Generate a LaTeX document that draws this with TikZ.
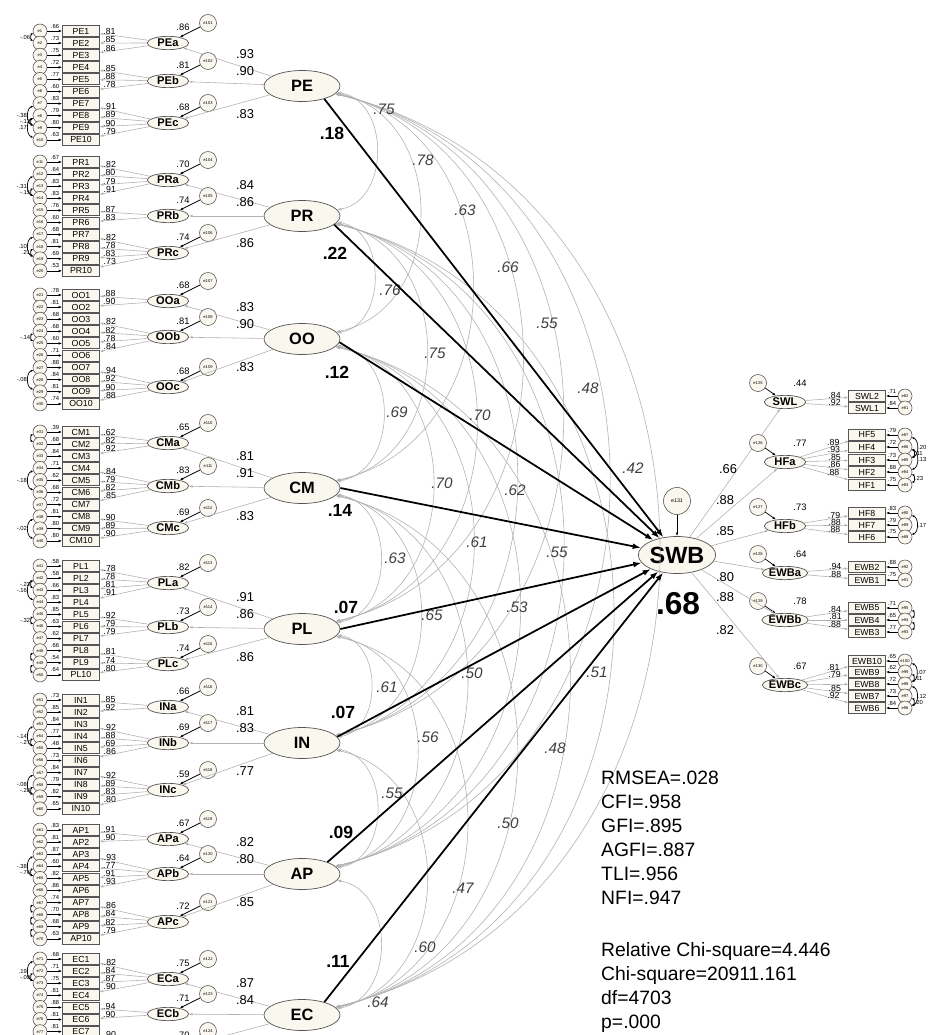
\documentclass[tikz,border=0pt]{standalone}
\usepackage{fontspec}
\setmainfont{Liberation Sans}
\usepackage{tikz}
\usetikzlibrary{arrows.meta, shapes.geometric, calc}
\definecolor{creamfill}{RGB}{250,247,238}
\definecolor{pathgray}{RGB}{178,178,178}
\definecolor{rimgray}{RGB}{85,85,85}
\newcommand{\pxfont}[1]{\fontsize{#1}{#1}\selectfont}
\tikzset{
  % first-order constructs
  latent/.style={
    ellipse, draw=rimgray, fill=creamfill, line width=0.6pt, inner sep=0pt,
    minimum width=2.28cm, minimum height=0.93cm, font=\pxfont{14}\bfseries
  },
  % sub-dimensions
  sublat/.style={
    ellipse, draw=rimgray, fill=creamfill, line width=0.6pt, inner sep=0pt,
    minimum width=1.24cm, minimum height=0.4cm, font=\pxfont{9.5}\bfseries
  },
  % observed items
  item/.style={
    rectangle, draw=rimgray, fill=creamfill, line width=0.7pt, inner sep=0pt,
    minimum width=1.1cm, minimum height=0.33cm, font=\pxfont{7.5}
  },
  % error terms
  errc/.style={
    circle, draw=rimgray, fill=creamfill, line width=0.5pt, inner sep=0pt,
    minimum size=0.42cm, font=\pxfont{3.5}
  },
  errs/.style={errc, minimum size=0.51cm},
  % arrow styles
  load/.style={-{Latex[length=3pt, width=2.2pt]}, draw=pathgray, line width=0.5pt},
  errarr/.style={-{Latex[length=3pt, width=2.2pt]}, draw=black, line width=0.6pt},
  direct/.style={-{Latex[length=7pt, width=5pt]}, draw=black, line width=1.5pt},
  cov/.style={{Latex[length=3.5pt, width=2.5pt]}-{Latex[length=3.5pt, width=2.5pt]}, draw=pathgray, line width=0.5pt},
  ecov/.style={{Latex[length=2pt, width=2pt]}-{Latex[length=2pt, width=2pt]}, draw=black, line width=0.6pt},
  % text styles
  coefb/.style={font=\pxfont{15}\bfseries, inner sep=0pt},
  coefm/.style={font=\pxfont{11}, inner sep=0pt},
  coefs/.style={font=\pxfont{8}, inner sep=0.5pt},
  coefi/.style={font=\pxfont{7.5}, inner sep=0.3pt},
  tinyc/.style={font=\pxfont{5}, inner sep=0.5pt},
  corr/.style={font=\pxfont{13}\itshape, text=black!75, inner sep=0pt},
  fitnote/.style={font=\fontsize{16.5}{20.4}\selectfont, align=left, inner sep=0pt}
}

\begin{document}
\begin{tikzpicture}[x=0.03cm, y=-0.03cm]
  \useasboundingbox (0,0) rectangle (933,1035);
  \clip (0,0) rectangle (933,1035);
  \fill[white] (0,0) rectangle (933,1035);

  % outcome
  \node[latent, minimum width=2.22cm, minimum height=1.11cm, font=\pxfont{20}\bfseries] (SWB) at (677,555) {SWB};
  \node[errc, minimum size=0.81cm, font=\pxfont{4.5}] (e131) at (677,501) {e131};
  \draw[errarr] (e131) -- (SWB);
  \node[font=\pxfont{27}\bfseries, inner sep=0pt] (rSWB) at (678,604) {.68};

  % predictors
  \foreach \f/\yy in {PE/86, PR/216, OO/339, CM/488, PL/629, IN/743, AP/874, EC/1015}
    \node[latent] (\f) at (302,\yy) {\f};

  % correlations between predictors
  \foreach \na/\ya [count=\ci] in {PE/86, PR/216, OO/339, CM/488, PL/629, IN/743, AP/874, EC/1015} {
    \foreach \nb/\yb [count=\cj] in {PE/86, PR/216, OO/339, CM/488, PL/629, IN/743, AP/874, EC/1015} {
      \ifnum\cj>\ci
        \pgfmathsetmacro\cx{(302+75+0.354*(\yb-\ya-130)-84.5)/0.75}
        \pgfmathsetmacro\cy{0.12*(\yb-\ya)}
        \draw[cov] (\na) .. controls (\cx,\ya+\cy) and (\cx,\yb-\cy) .. (\nb);
      \fi
    }
  }
  \foreach \lx/\ly/\lv [count=\nm] in {384/109/.75, 423/160/.78, 465/210/.63, 508/267/.66,
      547/323/.55, 588/388/.48, 633/468/.42, 390/290/.76, 435/353/.75, 480/415/.70,
      397/412/.69, 442/483/.70, 515/490/.62, 477/542/.61, 557/552/.55, 395/558/.63,
      432/615/.65, 517/607/.53, 472/673/.50, 597/672/.51, 387/687/.61, 428/737/.56,
      555/748/.48, 392/793/.55, 508/823/.50, 463/888/.47, 425/947/.60, 378/1002/.64}
    \node[corr] (rho\nm) at (\lx,\ly) {\lv};

  % paths to SWB
  \foreach \f/\ang/\bx/\by/\bv in {PE/-30/332/133/.18, PR/-15/335/253/.22, OO/-5/337/372/.12,
      CM/0/340/510/.14, PL/0/346/607/.07, IN/10/343/712/.07, AP/25/341/832/.09, EC/30/338/961/.11} {
    \draw[direct] (\f.\ang) -- (SWB);
    \node[coefb] (b\f) at (\bx,\by) {\bv};
  }

  % items and their errors
  \foreach \f/\yo/\eo/\nn in {PE/31/0/10, PR/162/10/10, OO/295/20/10, CM/432/30/10,
      PL/566/40/10, IN/700/50/10, AP/830/60/10, EC/959/70/7} {
    \foreach \kk in {1,...,\nn} {
      \pgfmathsetmacro\yy{\yo+12.1*(\kk-1)}
      \pgfmathtruncatemacro\en{\eo+\kk}
      \node[item] (\f\kk) at (81,\yy) {\f\kk};
      \node[errc] (e\en) at (40,\yy) {e\en};
      \draw[errarr] (e\en) -- (\f\kk);
    }
  }
  \foreach \rr [count=\en] in {.66,.73,.75,.72,.77,.60,.83,.79,.80,.63,
      .67,.64,.83,.83,.76,.60,.68,.81,.69,.53, .78,.81,.68,.68,.60,.71,.88,.84,.81,.74,
      .39,.68,.84,.71,.62,.68,.72,.81,.80,.80, .58,.58,.66,.83,.85,.63,.62,.66,.54,.64,
      .73,.85,.84,.77,.48,.73,.84,.79,.82,.65, .83,.81,.87,.60,.82,.86,.74,.70,.68,.63,
      .68,.71,.75,.81,.88,.81,.81}
    \node[tinyc] (q\en) at ($(e\en)+(15,-5)$) {\rr};
  \foreach \ea/\eb/\lab [count=\nm] in {1/2/-.06, 7/9/-.38, 8/9/-.13, 8/10/.17, 12/14/-.31,
      13/14/-.15, 17/19/.10, 18/19/.21, 24/25/-.14, 27/29/-.08, 31/32/{}, 34/36/-.18,
      38/40/-.02, 42/43/-.23, 42/44/-.16, 45/46/-.32, 48/49/{}, 49/50/{}, 53/55/-.14,
      54/55/-.27, 57/59/-.08, 58/59/-.28, 63/65/-.38, 64/65/-.76, 67/68/{}, 68/69/{},
      69/70/{}, 71/73/.19, 72/73/-.09}
    \draw[ecov] (e\ea) to[bend right=70] node[tinyc, left=0pt] (cv\nm) {\lab} (e\eb);

  % sub-dimensions
  \foreach \f/\sx/\sy/\fa/\rs/\ld/\ly/\en/\lds in {
      PE/a/43/1/.86/.93/-32/101/{.81,.85,.86}, PE/b/81/4/.81/.90/-15/102/{.85,.88,.78},
      PE/c/123/7/.68/.83/28/103/{.91,.89,.90,.79},
      PR/a/180/1/.70/.84/-31/104/{.82,.80,.79,.91}, PR/b/216/5/.74/.86/-14/105/{.87,.83},
      PR/c/253/7/.74/.86/27/106/{.82,.78,.83,.73},
      OO/a/301/1/.68/.83/-32/107/{.88,.90}, OO/b/337/3/.81/.90/-15/108/{.82,.82,.78,.84},
      OO/c/387/7/.68/.83/28/109/{.94,.92,.90,.88},
      CM/a/443/1/.65/.81/-32/110/{.62,.82,.92}, CM/b/486/4/.83/.91/-15/111/{.84,.79,.82,.85},
      CM/c/528/8/.69/.83/28/112/{.90,.89,.90},
      PL/a/583/1/.82/.91/-32/113/{.78,.78,.81,.91}, PL/b/627/5/.73/.86/-15/114/{.92,.79,.79},
      PL/c/664/8/.74/.86/28/115/{.81,.74,.80},
      IN/a/707/1/.66/.81/-32/116/{.85,.92}, IN/b/743/3/.69/.83/-15/117/{.92,.88,.69,.86},
      IN/c/790/7/.59/.77/28/118/{.92,.89,.83,.80},
      AP/a/839/1/.67/.82/-32/119/{.91,.90}, AP/b/874/3/.64/.80/-15/120/{.93,.77,.91,.93},
      AP/c/922/7/.72/.85/28/121/{.86,.84,.82,.79},
      EC/a/979/1/.75/.87/-32/122/{.82,.84,.87,.90}, EC/b/1014/5/.71/.84/-15/123/{.94,.90},
      EC/c/1051/7/.70/{}/28/124/{.90}} {
    \node[sublat] (\f\sx) at (168,\sy) {\f\sx};
    \node[errs] (e\en) at (208,\sy-20) {e\en};
    \draw[errarr] (e\en) -- (\f\sx);
    \node[coefs] (r\f\sx) at (183,\sy-16) {\rs};
    \draw[load] (\f) -- (\f\sx);
    \node[coefm] (g\f\sx) at ($(\f)+(-57,\ly)$) {\ld};
    \foreach \vl [count=\cc] in \lds {
      \pgfmathtruncatemacro\ii{\fa+\cc-1}
      \draw[load] (\f\sx) -- (\f\ii) node[coefi, pos=0.8, above=-0.5pt] (l\f\ii) {\vl};
    }
  }

  % dimensions of SWB
  \foreach \f/\yy/\en/\rs/\lx/\ly/\lv in {SWL/402/125/.44/728/469/.66, HFa/462/126/.77/725/500/.88,
      HFb/526/127/.73/725/531/.85, EWBa/573/128/.64/725/577/.80, EWBb/620/129/.78/725/597/.88,
      EWBc/685/130/.67/725/630/.82} {
    \node[sublat] (\f) at (785,\yy) {\f};
    \node[errs] (e\en) at (758,\yy-19) {e\en};
    \draw[errarr] (e\en) -- (\f);
    \node[coefs] (r\f) at (800,\yy-19) {\rs};
    \draw[load] (SWB) -- (\f);
    \node[coefm] (g\f) at (\lx,\ly) {\lv};
  }
  \foreach \nm/\yy/\fac/\en/\ld/\rr in {SWL2/396/SWL/82/.84/.71, SWL1/408/SWL/81/.92/.84,
      HF5/435/HFa/87/.89/.79, HF4/447/HFa/86/.93/.72, HF3/460/HFa/85/.85/.73,
      HF2/472/HFa/84/.86/.88, HF1/485/HFa/83/.88/.75,
      HF8/513/HFb/90/.79/.83, HF7/525/HFb/89/.88/.79, HF6/537/HFb/88/.88/.75,
      EWB2/567/EWBa/92/.94/.88, EWB1/580/EWBa/91/.88/.75,
      EWB5/608/EWBb/95/.84/.71, EWB4/620/EWBb/94/.81/.65, EWB3/632/EWBb/93/.88/.77,
      EWB10/661/EWBc/100/.81/.65, EWB9/672/EWBc/99/.79/.62, EWB8/684/EWBc/98/{}/.72,
      EWB7/696/EWBc/97/.85/.73, EWB6/708/EWBc/96/.92/.84} {
    \node[item] (\nm) at (867,\yy) {\nm};
    \node[errc] (e\en) at (905,\yy) {e\en};
    \draw[errarr] (e\en) -- (\nm);
    \node[tinyc] (q\en) at (892,\yy-5) {\rr};
    \draw[load] (\fac) -- (\nm) node[coefi, pos=0.68, above=-0.5pt] (l\nm) {\ld};
  }
  \foreach \ea/\eb/\lab [count=\nm] in {87/85/.20, 86/85/.11, 86/84/.13, 84/83/.23, 90/88/.17,
      95/94/{}, 94/93/{}, 100/98/.07, 99/98/.11, 98/96/.12, 97/96/.20}
    \draw[ecov] (e\ea) to[bend left=70] node[tinyc, right=0pt] (cw\nm) {\lab} (e\eb);

  % fit indices
  \node[fitnote, anchor=north west] (fit) at (601,771) {RMSEA=.028\\CFI=.958\\GFI=.895\\AGFI=.887\\TLI=.956\\NFI=.947\\[24.6pt]Relative Chi-square=4.446\\Chi-square=20911.161\\df=4703\\p=.000};
\end{tikzpicture}
\end{document}
